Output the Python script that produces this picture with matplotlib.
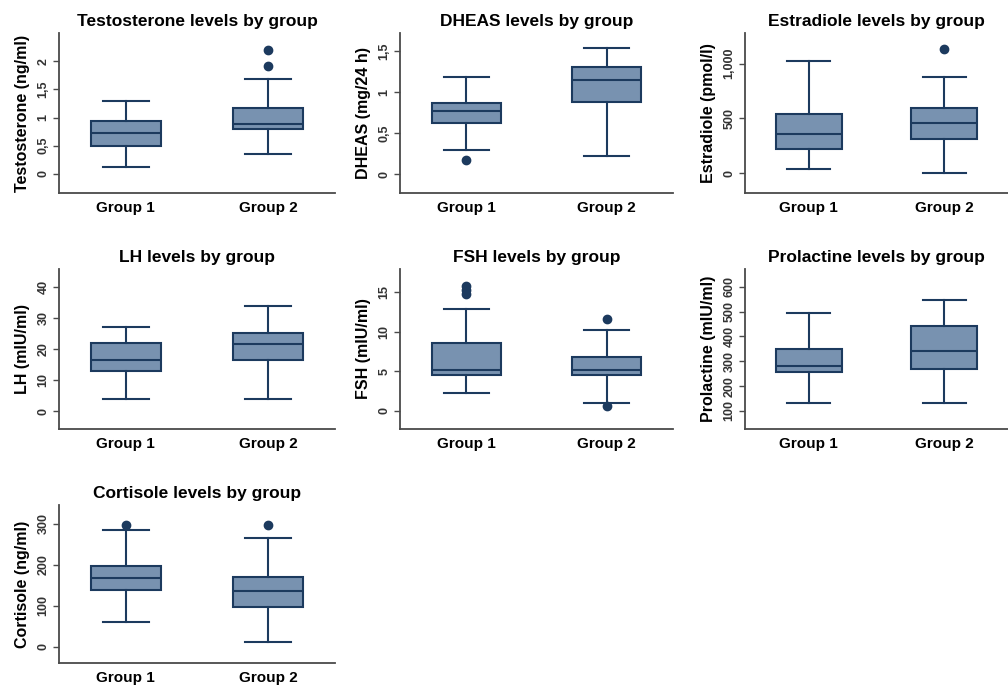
import matplotlib
matplotlib.use("Agg")
import matplotlib.pyplot as plt

plt.rcParams["font.family"] = ["Liberation Sans", "DejaVu Sans"]

GROUPS = ["Group 1", "Group 2"]

# (title, ylabel) per panel
titles = [
    "Testosterone levels by group",
    "DHEAS levels by group",
    "Estradiole levels by group",
    "LH levels by group",
    "FSH levels by group",
    "Prolactine levels by group",
    "Cortisole levels by group",
]
ylabels = [
    "Testosterone (ng/ml)",
    "DHEAS (mg/24 h)",
    "Estradiole (pmol/l)",
    "LH (mIU/ml)",
    "FSH (mIU/ml)",
    "Prolactine (mIU/ml)",
    "Cortisole (ng/ml)",
]

# box stats per panel: [group1, group2]
whislo = [[0.12, 0.35], [0.29, 0.22], [40, 0], [4, 4], [2.3, 1.0], [130, 130], [60, 12]]
q1 = [[0.50, 0.79], [0.62, 0.88], [220, 310], [13, 16.5], [4.5, 4.5], [255, 268], [140, 98]]
med = [[0.72, 0.89], [0.77, 1.15], [360, 460], [16.5, 21.5], [5.1, 5.2], [280, 340], [167, 137]]
q3 = [[0.94, 1.17], [0.87, 1.30], [545, 600], [22, 25], [8.5, 6.8], [348, 443], [198, 171]]
whishi = [[1.29, 1.69], [1.18, 1.54], [1020, 880], [27, 34], [12.9, 10.2], [495, 548], [285, 266]]
fliers = [
    [[], [1.91, 2.19]],
    [[0.17], []],
    [[], [1130]],
    [[], []],
    [[14.7, 15.2, 15.7], [11.6, 0.6]],
    [[], []],
    [[298], [298]],
]

yticks = [
    [0, 0.5, 1, 1.5, 2],
    [0, 0.5, 1, 1.5],
    [0, 500, 1000],
    [0, 10, 20, 30, 40],
    [0, 5, 10, 15],
    [100, 200, 300, 400, 500, 600],
    [0, 100, 200, 300],
]
yticklabels = [
    ["0", "0,5", "1", "1,5", "2"],
    ["0", "0,5", "1", "1,5"],
    ["0", "500", "1,000"],
    ["0", "10", "20", "30", "40"],
    ["0", "5", "10", "15"],
    ["100", "200", "300", "400", "500", "600"],
    ["0", "100", "200", "300"],
]
ylims = [
    (-0.34, 2.5),
    (-0.23, 1.72),
    (-180, 1280),
    (-5.8, 45.8),
    (-2.3, 17.9),
    (27, 672),
    (-39, 346),
]

# panel rectangles in pixels: left, right, top, bottom
cols = [(59, 335), (400, 673), (745, 1008)]
rows = [(33, 193), (269, 429), (505, 663)]

W, H = 1008, 687
FILL = "#7892b0"
EDGE = "#1c3a5e"
SPINE = "#4a4a4a"

fig = plt.figure(figsize=(W / 100, H / 100), dpi=100)

for i in range(7):
    r, c = divmod(i, 3)
    l, rr = cols[c]
    t, b = rows[r]
    ax = fig.add_axes([l / W, 1 - b / H, (rr - l) / W, (b - t) / H])

    stats = []
    for g in range(2):
        stats.append(dict(
            whislo=whislo[i][g], q1=q1[i][g], med=med[i][g],
            q3=q3[i][g], whishi=whishi[i][g], fliers=fliers[i][g],
        ))
    ax.bxp(
        stats, positions=[1, 2], widths=0.49, patch_artist=True,
        showfliers=True,
        boxprops=dict(facecolor=FILL, edgecolor=EDGE, linewidth=1.5),
        medianprops=dict(color=EDGE, linewidth=1.5),
        whiskerprops=dict(color=EDGE, linewidth=1.5),
        capprops=dict(color=EDGE, linewidth=1.5),
        capwidths=0.32,
        flierprops=dict(marker="o", markerfacecolor=EDGE, markeredgecolor=EDGE,
                        markersize=6),
    )

    ax.set_xlim(0.53, 2.47)
    ax.set_ylim(*ylims[i])
    ax.set_xticks([1, 2])
    ax.set_xticklabels(GROUPS, fontsize=11, fontweight="bold")
    ax.tick_params(axis="x", length=0, pad=6)
    ax.set_yticks(yticks[i])
    ax.set_yticklabels(yticklabels[i], rotation=90, va="center", fontsize=9,
                       fontweight="bold", color="#333333")
    ax.tick_params(axis="y", length=4, width=1, color=SPINE, pad=3)

    for s in ["top", "right"]:
        ax.spines[s].set_visible(False)
    for s in ["left", "bottom"]:
        ax.spines[s].set_color(SPINE)
        ax.spines[s].set_linewidth(1.3)

    ax.set_ylabel(ylabels[i], fontsize=11.5, fontweight="bold", labelpad=5)
    ax.set_title(titles[i], fontsize=12.5, fontweight="bold", pad=5)

fig.savefig("out.png", dpi=100)
